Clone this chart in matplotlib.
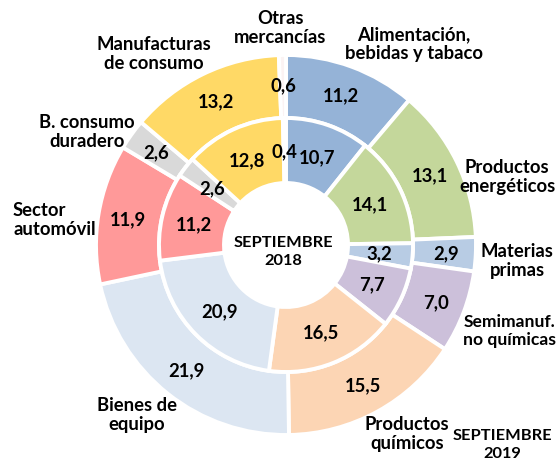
import numpy as np
import matplotlib
matplotlib.use("Agg")
import matplotlib.pyplot as plt

# datos: estructura de exportaciones (%) por sectores
categorias = ["Alimentación,\nbebidas y tabaco", "Productos\nenergéticos", "Materias\nprimas",
              "Semimanuf.\nno químicas", "Productos\nquímicos", "Bienes de\nequipo",
              "Sector\nautomóvil", "B. consumo\nduradero", "Manufacturas\nde consumo",
              "Otras\nmercancías"]
sep_2019 = [11.2, 13.1, 2.9, 7.0, 15.5, 21.9, 11.9, 2.6, 13.2, 0.6]
sep_2018 = [10.7, 14.1, 3.2, 7.7, 16.5, 20.9, 11.2, 2.6, 12.8, 0.4]

colores = ["#95B3D7", "#C4D79B", "#B8CCE4", "#CCC0DA", "#FCD5B4",
           "#DCE6F2", "#FF9999", "#D9D9D9", "#FFD966", "#FBF3F3"]

plt.rcParams['font.family'] = ['Lato', 'DejaVu Sans']

W, H = 557, 464
fig = plt.figure(figsize=(W / 100, H / 100), dpi=100)
ax = fig.add_axes([0, 0, 1, 1])

cx, cy = 286, H - 246      # centro del anillo (en pixeles)
r_ext, r_med, r_int = 190, 127, 62

w_ext, _ = ax.pie(sep_2019, radius=r_ext, center=(cx, cy), colors=colores,
                  startangle=90, counterclock=False, frame=True,
                  wedgeprops=dict(width=r_ext - r_med, edgecolor="white", linewidth=2.8))
w_int, _ = ax.pie(sep_2018, radius=r_med, center=(cx, cy), colors=colores,
                  startangle=90, counterclock=False, frame=True,
                  wedgeprops=dict(width=r_med - r_int, edgecolor="white", linewidth=2.8))


def poner_valores(cunas, valores, r):
    for w, v in zip(cunas, valores):
        ang = np.deg2rad((w.theta1 + w.theta2) / 2)
        x = cx + r * np.cos(ang)
        y = cy + r * np.sin(ang)
        ax.text(x, y, f"{v:.1f}".replace(".", ","), ha="center", va="center",
                fontsize=13.3, fontweight="bold", color="black")


poner_valores(w_ext, sep_2019, 160)
poner_valores(w_int, sep_2018, 94)

# etiquetas de categorias (posicion a mano, como en el original)
pos_etiquetas = [(414, 44), (507, 177), (517, 261), (556, 331), (407, 434),
                 (137, 415), (13, 220), (87, 132), (154, 54), (280, 28)]
alineacion = ["center", "center", "center", "right", "center",
              "center", "left", "center", "center", "center"]
for txt, (x, y), alin in zip(categorias, pos_etiquetas, alineacion):
    tam = 12.6 if alin == "right" else 13.3
    ax.text(x, H - y, txt, ha=alin, va="center", fontsize=tam,
            fontweight="bold", linespacing=1.1,
            multialignment="left" if alin == "left" else "center")

ax.text(283, H - 252, "SEPTIEMBRE\n2018", ha="center", va="center",
        fontsize=11.8, fontweight="bold", linespacing=1.3)
ax.text(502, H - 445, "SEPTIEMBRE\n2019", ha="center", va="center",
        fontsize=11.8, fontweight="bold", linespacing=1.3)

ax.set_xlim(0, W)
ax.set_ylim(0, H)
ax.set_aspect("equal")
ax.axis("off")

fig.savefig("out.png", dpi=100)
